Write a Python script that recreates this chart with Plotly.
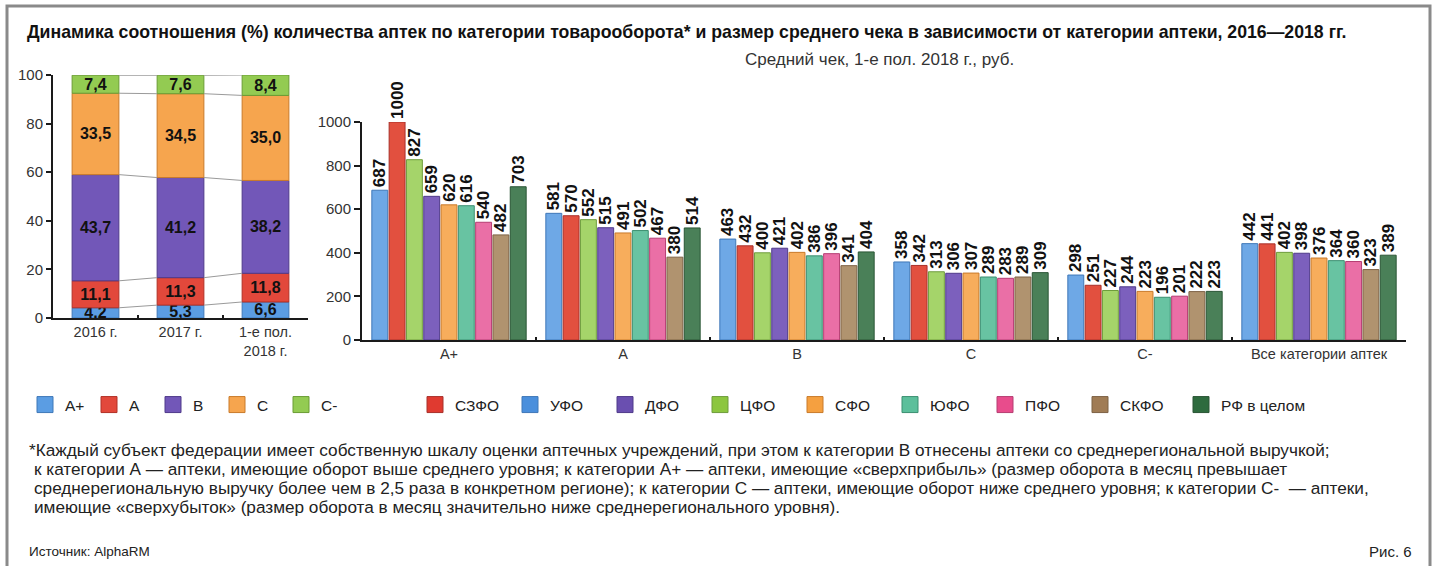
import plotly.graph_objects as go

W, H = 1437, 566

# ---------------- data ----------------
years = ["2016 г.", "2017 г.", "1-е пол.<br>2018 г."]
share_categories = ["А+", "А", "В", "С", "С-"]
share_Aplus = [4.2, 5.3, 6.6]
share_A = [11.1, 11.3, 11.8]
share_B = [43.7, 41.2, 38.2]
share_C = [33.5, 34.5, 35.0]
share_Cminus = [7.4, 7.6, 8.4]

check_groups = ["А+", "А", "В", "С", "С-", "Все категории аптек"]
regions = ["УФО", "СЗФО", "ЦФО", "ДФО", "СФО", "ЮФО", "ПФО", "СКФО", "РФ в целом"]
check_UFO = [687, 581, 463, 358, 298, 442]
check_SZFO = [1000, 570, 432, 342, 251, 441]
check_CFO = [827, 552, 400, 313, 227, 402]
check_DFO = [659, 515, 421, 306, 244, 398]
check_SFO = [620, 491, 402, 307, 223, 376]
check_YUFO = [616, 502, 386, 289, 196, 364]
check_PFO = [540, 467, 396, 283, 201, 360]
check_SKFO = [482, 380, 341, 289, 222, 323]
check_RF = [703, 514, 404, 309, 223, 389]
legend_order = ["СЗФО", "УФО", "ДФО", "ЦФО", "СФО", "ЮФО", "ПФО", "СКФО", "РФ в целом"]

# ---------------- styles ----------------
FONT = "Liberation Sans, Arial, sans-serif"
share_colors = ["#5b9de3", "#e2483b", "#7257b8", "#f6a54e", "#93cb52"]
share_lines = ["#3f78b8", "#b23026", "#4f3a8a", "#c97a2a", "#6a9c34"]
region_colors = {
    "УФО": ("#6ea8e6", "#3f78b8"),
    "СЗФО": ("#e2503f", "#a8302a"),
    "ЦФО": ("#a5d46a", "#6e9c3c"),
    "ДФО": ("#7c60bd", "#4f3a8a"),
    "СФО": ("#f7ad5c", "#c97a2a"),
    "ЮФО": ("#68c3a2", "#3b8f70"),
    "ПФО": ("#ea6fa6", "#b53d72"),
    "СКФО": ("#b0936f", "#7d6245"),
    "РФ в целом": ("#4a8058", "#2a5535"),
}
legend_colors = {
    "УФО": "#4a8fdc", "СЗФО": "#e03a30", "ЦФО": "#8cc63f", "ДФО": "#6a4fb0",
    "СФО": "#f5a040", "ЮФО": "#5cbf9b", "ПФО": "#e84c8c", "СКФО": "#a07c55",
    "РФ в целом": "#2e6b3e",
}

fig = go.Figure()

def fmt(v):
    return f"{v:.1f}".replace(".", ",")

# ---------------- left stacked chart ----------------
share_series = [share_Aplus, share_A, share_B, share_C, share_Cminus]
xpos = list(range(len(years)))
bw = 0.55
base = [0.0] * len(years)
tops = []
for i, (name, vals) in enumerate(zip(share_categories, share_series)):
    fig.add_trace(go.Bar(
        x=xpos, y=vals, base=list(base), width=bw, offsetgroup="L",
        name=name, showlegend=False,
        marker=dict(color=share_colors[i], line=dict(color=share_lines[i], width=1)),
        text=[fmt(v) for v in vals], textposition="inside",
        insidetextanchor="middle", constraintext="none",
        textfont=dict(family=FONT, size=16, color="#111", weight="bold"),
        xaxis="x", yaxis="y", hoverinfo="skip",
    ))
    # legend entry (square swatch)
    fig.add_trace(go.Scatter(
        x=[None], y=[None], mode="markers", name=name, legend="legend", legendrank=i + 1,
        marker=dict(symbol="square", size=16, color=share_colors[i],
                    line=dict(color=share_lines[i], width=1)),
        xaxis="x", yaxis="y", hoverinfo="skip",
    ))
    base = [b + v for b, v in zip(base, vals)]
    tops.append(list(base))

# connector lines between bars at each segment top
for lvl in tops:
    xs, ys = [], []
    for j in range(len(years) - 1):
        xs += [j + bw / 2, j + 1 - bw / 2, None]
        ys += [lvl[j], lvl[j + 1], None]
    fig.add_trace(go.Scatter(x=xs, y=ys, mode="lines", showlegend=False,
                             line=dict(color="#9a9a9a", width=1),
                             xaxis="x", yaxis="y", hoverinfo="skip"))

# ---------------- right grouped chart ----------------
check_series = [check_UFO, check_SZFO, check_CFO, check_DFO, check_SFO,
                check_YUFO, check_PFO, check_SKFO, check_RF]
for name, vals in zip(regions, check_series):
    fc, lc = region_colors[name]
    fig.add_trace(go.Bar(
        x=check_groups, y=vals, name=name, showlegend=False,
        marker=dict(color=fc, line=dict(color=lc, width=1)),
        text=[str(v) for v in vals], textposition="outside", textangle=-90,
        constraintext="none", cliponaxis=False,
        textfont=dict(family=FONT, size=17, color="#111", weight="bold"),
        xaxis="x2", yaxis="y2", hoverinfo="skip",
    ))
for name in legend_order:
    fc, lc = region_colors[name]
    fig.add_trace(go.Scatter(
        x=[None], y=[None], mode="markers", name=name,
        legend="legend3" if name == "РФ в целом" else "legend2",
        legendrank=legend_order.index(name) + 1,
        marker=dict(symbol="square", size=16, color=legend_colors[name],
                    line=dict(color=lc, width=1)),
        xaxis="x2", yaxis="y2", hoverinfo="skip",
    ))

def px(x):
    return x / W

def py(y):
    return 1 - y / H

axis_common = dict(showline=True, linecolor="#1a1a1a", linewidth=2, showgrid=False,
                   zeroline=False, automargin=False)
yfont = dict(family=FONT, size=15, color="#333")
xfont = dict(family=FONT, size=14.5, color="#333")
legfont = dict(family=FONT, size=15.5, color="#222")

fig.update_layout(
    width=W, height=H,
    margin=dict(l=0, r=0, t=0, b=0, autoexpand=False),
    paper_bgcolor="white", plot_bgcolor="white",
    barmode="group", bargap=0.105, bargroupgap=0.08,
    font=dict(family=FONT, color="#222"),
    xaxis=dict(domain=[px(53), px(308)], range=[-0.5, 2.5], anchor="y",
               tickvals=xpos, ticktext=years, ticks="", tickfont=xfont, **axis_common,
               minor=dict(tickvals=[0.5, 1.5], ticks="inside", ticklen=3,
                          tickcolor="#1a1a1a", tickwidth=2)),
    yaxis=dict(domain=[py(318), py(75)], range=[0, 100], anchor="x",
               tickvals=[0, 20, 40, 60, 80, 100], ticks="outside", ticklen=5,
               tickcolor="#1a1a1a", tickwidth=2, tickfont=yfont, **axis_common),
    xaxis2=dict(domain=[px(362), px(1406)], range=[-0.5, 5.5], anchor="y2",
                type="category", ticks="inside", tickson="boundaries", ticklen=3,
                tickcolor="#1a1a1a", tickwidth=2, tickfont=xfont, **axis_common),
    yaxis2=dict(domain=[py(340), py(122)], range=[0, 1000], anchor="x2",
                tickvals=[0, 200, 400, 600, 800, 1000], ticks="outside", ticklen=6,
                tickcolor="#1a1a1a", tickwidth=2, tickfont=yfont, **axis_common),
    legend=dict(orientation="h", x=px(25), y=py(405), xanchor="left", yanchor="middle",
                font=legfont, itemwidth=30, entrywidth=19, traceorder="normal",
                bgcolor="rgba(0,0,0,0)"),
    legend2=dict(orientation="h", x=px(415), y=py(405), xanchor="left", yanchor="middle",
                 font=legfont, itemwidth=30, entrywidth=50, traceorder="normal",
                 bgcolor="rgba(0,0,0,0)"),
    legend3=dict(orientation="h", x=px(1181), y=py(405), xanchor="left", yanchor="middle",
                 font=legfont, itemwidth=30, traceorder="normal",
                 bgcolor="rgba(0,0,0,0)"),
    showlegend=True,
)

# ---------------- texts ----------------
ann = []
ann.append(dict(text="<b>Динамика соотношения (%) количества аптек по категории товарооборота* и размер среднего чека в зависимости от категории аптеки, 2016—2018 гг.</b>",
                x=px(25), y=py(32), xanchor="left", yanchor="middle",
                font=dict(family=FONT, size=17.7, color="#111")))
ann.append(dict(text="Средний чек, 1-е пол. 2018 г., руб.", x=px(880), y=py(60),
                xanchor="center", yanchor="middle", font=dict(family=FONT, size=17, color="#333")))
foot = [
    "*Каждый субъект федерации имеет собственную шкалу оценки аптечных учреждений, при этом к категории В отнесены аптеки со среднерегиональной выручкой;",
    "к категории А — аптеки, имеющие оборот выше среднего уровня; к категории А+ — аптеки, имеющие «сверхприбыль» (размер оборота в месяц превышает",
    "среднерегиональную выручку более чем в 2,5 раза в конкретном регионе); к категории С — аптеки, имеющие оборот ниже среднего уровня; к категории С-  — аптеки,",
    "имеющие «сверхубыток» (размер оборота в месяц значительно ниже среднерегионального уровня).",
]
for k, line in enumerate(foot):
    ann.append(dict(text=line, x=px(27 if k == 0 else 32), y=py(450 + 19 * k),
                    xanchor="left", yanchor="middle",
                    font=dict(family=FONT, size=17.2, color="#222")))
ann.append(dict(text="Источник: AlphaRM", x=px(27), y=py(551), xanchor="left", yanchor="middle",
                font=dict(family=FONT, size=13.5, color="#222")))
ann.append(dict(text="Рис. 6", x=px(1414), y=py(551), xanchor="right", yanchor="middle",
                font=dict(family=FONT, size=15, color="#222")))
for a in ann:
    a.update(xref="paper", yref="paper", showarrow=False)
fig.update_layout(annotations=ann)

# outer frame
fig.add_shape(type="rect", xref="paper", yref="paper", x0=px(7), x1=px(1430),
              y0=py(575), y1=py(6), line=dict(color="#8a8a8a", width=3), layer="below")

fig.write_html("out.html", config={"displayModeBar": False},
               post_script="document.body.style.margin='0';document.body.style.overflow='hidden';")
